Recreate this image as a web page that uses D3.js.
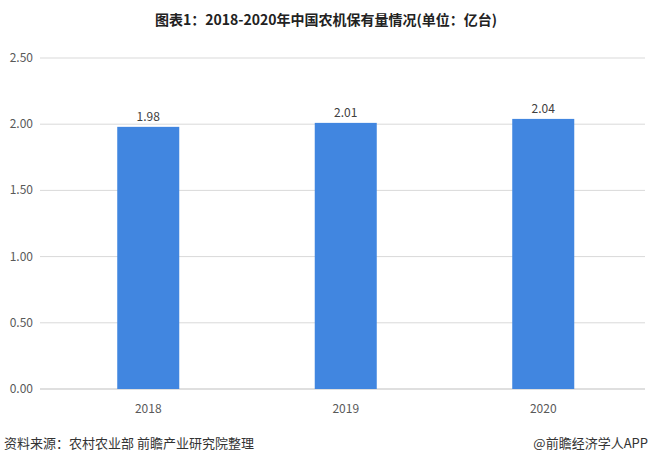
<!DOCTYPE html>
<html><head><meta charset="utf-8">
<script src="https://cdn.jsdelivr.net/npm/d3@7"></script>
<style>body{margin:0;background:#fff;font-family:"Noto Sans CJK SC","Noto Sans",sans-serif}</style>
</head><body><svg id="c" width="652" height="465"></svg>
<script>
const categories = ["2018","2019","2020"];
const values = [1.98, 2.01, 2.04];
const yTicks = [0,0.5,1,1.5,2,2.5];
const svg = d3.select("#c");
const x = d3.scaleBand().domain(categories).range([49.5,642]).padding(0);
const y = d3.scaleLinear().domain([0,2.5]).range([389,58]);
svg.append("text").attr("x",326).attr("y",25).attr("text-anchor","middle")
  .attr("font-size",14).attr("font-weight","bold").attr("fill","#222")
  .text("图表1：2018-2020年中国农机保有量情况(单位：亿台)");
svg.selectAll(".g").data(yTicks).enter().append("line")
  .attr("x1",40).attr("x2",645).attr("y1",d=>y(d)).attr("y2",d=>y(d))
  .attr("stroke",d=>d===0?"#bfbfbf":"#d9d9d9").attr("stroke-width",1);
svg.selectAll(".yl").data(yTicks).enter().append("text")
  .attr("x",33).attr("y",d=>y(d)+4).attr("text-anchor","end")
  .attr("font-size",12).attr("fill","#595959").text(d=>d3.format(".2f")(d));
const bw = x.bandwidth()*0.314;
svg.selectAll(".b").data(values).enter().append("rect")
  .attr("x",(d,i)=>x(categories[i])+x.bandwidth()/2-bw/2).attr("width",bw)
  .attr("y",d=>y(d)).attr("height",d=>y(0)-y(d)).attr("fill","#4186e0");
svg.selectAll(".v").data(values).enter().append("text")
  .attr("x",(d,i)=>x(categories[i])+x.bandwidth()/2).attr("y",d=>y(d)-6)
  .attr("text-anchor","middle").attr("font-size",12).attr("fill","#404040")
  .text(d=>d3.format(".2f")(d));
svg.selectAll(".xl").data(categories).enter().append("text")
  .attr("x",d=>x(d)+x.bandwidth()/2).attr("y",413).attr("text-anchor","middle")
  .attr("font-size",12).attr("fill","#595959").text(d=>d);
svg.append("text").attr("x",4).attr("y",448).attr("font-size",13).attr("fill","#333")
  .text("资料来源：农村农业部 前瞻产业研究院整理");
svg.append("text").attr("x",648).attr("y",448).attr("text-anchor","end").attr("font-size",13).attr("fill","#333")
  .text("@前瞻经济学人APP");
</script></body></html>
